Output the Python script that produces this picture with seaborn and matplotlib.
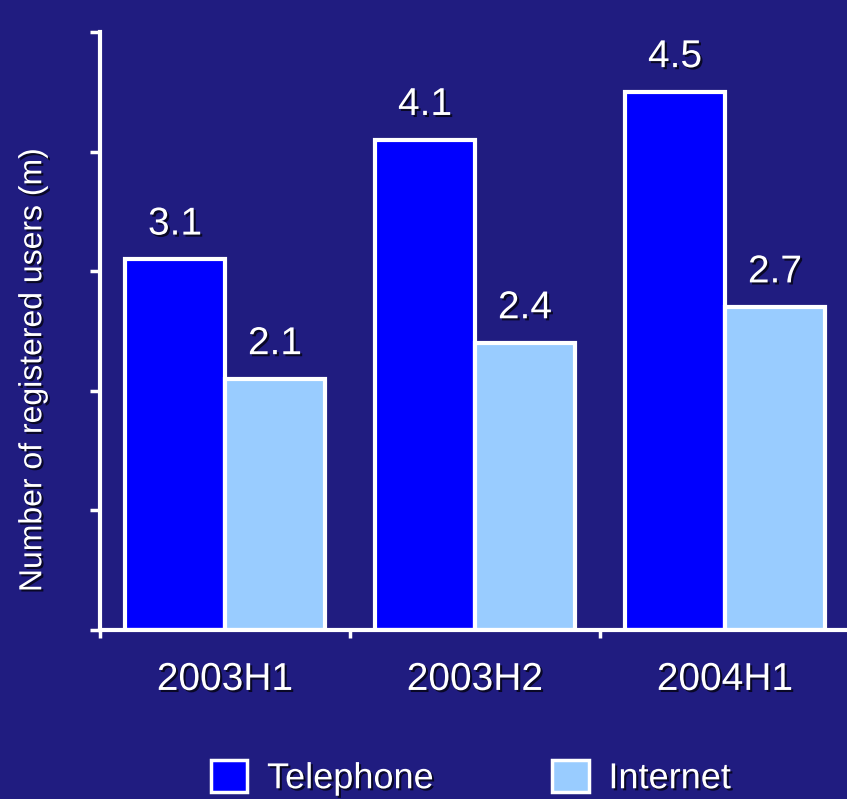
import matplotlib
matplotlib.use("Agg")
import matplotlib.pyplot as plt
import matplotlib.patheffects as pe
from matplotlib.patches import Patch
import seaborn as sns
import pandas as pd

periods = ["2003H1", "2003H2", "2004H1"]
telephone = [3.1, 4.1, 4.5]
internet = [2.1, 2.4, 2.7]
series_names = ["Telephone", "Internet"]
colors = ["#0000FF", "#99CCFF"]

df = pd.DataFrame({
    "period": periods * 2,
    "users": telephone + internet,
    "series": [series_names[0]] * 3 + [series_names[1]] * 3,
})

sns.set_theme(style="white")
plt.rcParams["font.family"] = ["Liberation Sans", "DejaVu Sans"]

bg = "#201c80"
fig = plt.figure(figsize=(8.47, 7.99), dpi=100, facecolor=bg)
ax = fig.add_axes([100 / 847, 1 - 630 / 799, 750 / 847, (630 - 32) / 799])
ax.set_facecolor("none")

sns.barplot(data=df, x="period", y="users", hue="series", palette=colors,
            width=0.8, edgecolor="white", linewidth=3, ax=ax, legend=False,
            saturation=1)

shadow = [pe.SimplePatchShadow(offset=(1.5, -1.5), shadow_rgbFace="black", alpha=0.7), pe.Normal()]

for cont in ax.containers:
    labels = ax.bar_label(cont, fmt="%.1f", padding=12, color="white", fontsize=28)
    for t in labels:
        t.set_path_effects(shadow)

ax.set_xlim(-0.5, 2.5)
ax.set_ylim(0, 5)
ax.set_yticks([0, 1, 2, 3, 4, 5])
ax.set_yticklabels([])
ax.set_xticks([-0.5, 0.5, 1.5, 2.5], minor=True)
ax.tick_params(axis="x", which="major", length=0, pad=23, labelsize=28, labelcolor="white")
ax.tick_params(axis="x", which="minor", length=6, width=2.5, color="white", direction="out", bottom=True)
ax.tick_params(axis="y", which="major", length=7, width=2.5, color="white", direction="out", left=True)
for t in ax.get_xticklabels():
    t.set_path_effects(shadow)

for s in ["top", "right"]:
    ax.spines[s].set_visible(False)
for s in ["left", "bottom"]:
    ax.spines[s].set_color("white")
    ax.spines[s].set_linewidth(3)

ax.set_xlabel("")
ax.set_ylabel("Number of registered users (m)", color="white", fontsize=23,
              path_effects=shadow)
ax.yaxis.set_label_coords(-0.069, 0.435)

handles = [Patch(facecolor=c, edgecolor="white", linewidth=2.5) for c in colors]
leg = fig.legend(handles, series_names, loc="center", bbox_to_anchor=(0.556, 1 - 778 / 799),
                 ncol=2, frameon=False, fontsize=26, handlelength=1.0, handleheight=1.0,
                 handletextpad=0.55, columnspacing=3.3, labelcolor="white")
for t in leg.get_texts():
    t.set_path_effects(shadow)

fig.savefig("out.png", dpi=100, facecolor=bg)
